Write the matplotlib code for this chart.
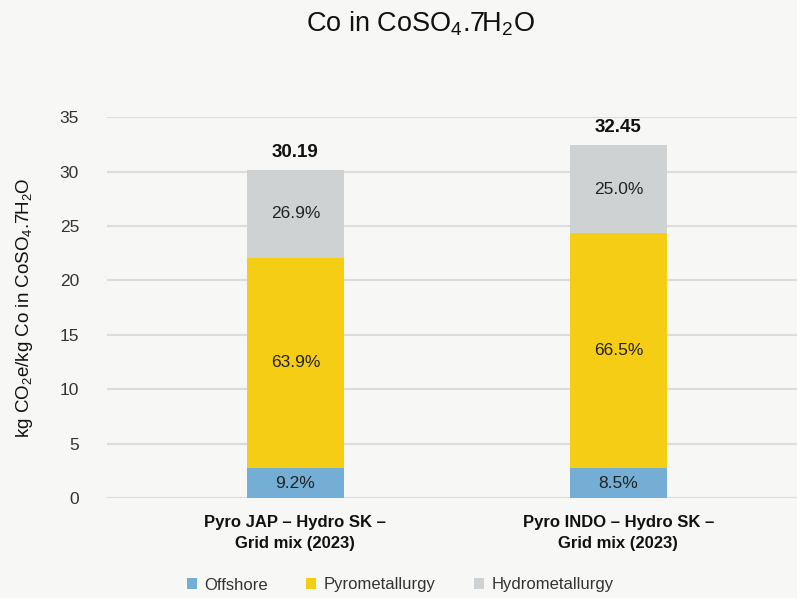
import numpy as np
import matplotlib.pyplot as plt
from matplotlib.patches import Patch

plt.rcParams['font.family'] = ['Liberation Sans', 'DejaVu Sans']
plt.rcParams['mathtext.fontset'] = 'custom'
plt.rcParams['mathtext.rm'] = 'Liberation Sans'
plt.rcParams['mathtext.it'] = 'Liberation Sans'
plt.rcParams['mathtext.bf'] = 'Liberation Sans:bold'

# data
categories = ['Pyro JAP – Hydro SK –\nGrid mix (2023)', 'Pyro INDO – Hydro SK –\nGrid mix (2023)']
totals = [30.19, 32.45]
series = ['Offshore', 'Pyrometallurgy', 'Hydrometallurgy']
shares = {
    'Offshore': [9.2, 8.5],
    'Pyrometallurgy': [63.9, 66.5],
    'Hydrometallurgy': [26.9, 25.0],
}
colors = {'Offshore': '#74aed4', 'Pyrometallurgy': '#f5cd14', 'Hydrometallurgy': '#cfd2d3'}

bg = '#f7f7f5'
fig = plt.figure(figsize=(7.97, 5.98), dpi=100, facecolor=bg)
ax = fig.add_axes([0.134, 0.167, 0.866, 0.637], facecolor=bg)

x = np.arange(len(categories))
width = 0.30
bottom = np.zeros(len(categories))
for s in series:
    vals = np.array(totals) * np.array(shares[s]) / 100
    ax.bar(x, vals, width, bottom=bottom, color=colors[s], zorder=3)
    for i in range(len(x)):
        ax.text(x[i], bottom[i] + vals[i] / 2, '{:.1f}%'.format(shares[s][i]),
                ha='center', va='center', fontsize=12.5, color='#222222', zorder=4)
    bottom = bottom + vals

for i in range(len(x)):
    ax.text(x[i], totals[i] + 0.8, '{:.2f}'.format(totals[i]), ha='center', va='bottom',
            fontsize=13.5, fontweight='bold', color='#111111')

ax.set_xlim(-0.584, 1.553)
ax.set_ylim(0, 35)
ax.set_yticks(np.arange(0, 36, 5))
ax.set_xticks(x)
ax.set_xticklabels(categories, fontsize=12, fontweight='bold', color='#111111', linespacing=1.55)
ax.tick_params(axis='y', length=0, pad=20, labelsize=12.5, labelcolor='#333333')
ax.tick_params(axis='x', length=0, pad=12)
ax.grid(axis='y', color='#dcdcdc', linewidth=1.5, zorder=0)
for sp in ax.spines.values():
    sp.set_visible(False)

ax.set_ylabel(r'kg CO$_2$e/kg Co in CoSO$_4$.7H$_2$O', fontsize=13.5, color='#111111')
ax.yaxis.set_label_coords(-0.104, 0.5)

fig.text(420 / 797, 1 - 24 / 598, r'Co in CoSO$_4$.7H$_2$O', ha='center', va='center',
         fontsize=19.5, color='#111111')

handles = [Patch(facecolor=colors[s], edgecolor='none') for s in series]
fig.legend(handles, series, loc='center', bbox_to_anchor=(400 / 797, 1 - 585 / 598), ncol=3,
           frameon=False, fontsize=12, handlelength=0.6, handleheight=0.6,
           handletextpad=0.45, columnspacing=2.3, labelcolor='#333333')

fig.savefig('out.png', dpi=100, facecolor=bg)
